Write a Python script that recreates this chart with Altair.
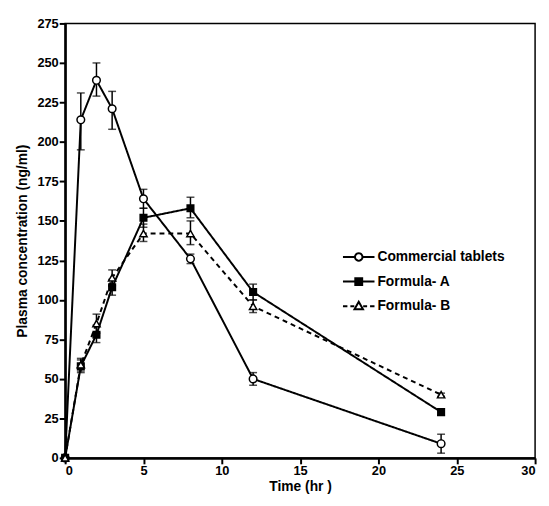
import math
import altair as alt
import pandas as pd

# ---- data ----
time = [0, 1, 2, 3, 5, 8, 12, 24]
commercial = [0, 214, 239, 221, 164, 126, 50, 9]
commercial_lo = [0, 195, 229, 208, 158, 123, 46, 3]
commercial_hi = [0, 231, 250, 232, 170, 129, 54, 15]
formula_a = [0, 58, 78, 108, 152, 158, 105, 29]
formula_a_lo = [0, 54, 73, 103, 146, 152, 100, 27]
formula_a_hi = [0, 63, 84, 113, 158, 165, 110, 31]
formula_b = [0, 59, 85, 114, 142, 142, 96, 40]
formula_b_lo = [0, 55, 79, 109, 137, 135, 92, 39]
formula_b_hi = [0, 62, 91, 119, 148, 150, 100, 41]
series_names = ["Commercial tablets", "Formula- A", "Formula- B"]
x_ticks = [0, 5, 10, 15, 20, 25, 30]
y_ticks = [0, 25, 50, 75, 100, 125, 150, 175, 200, 225, 250, 275]

FONT = "Liberation Sans"


def frame(name, vals, lo, hi):
    return pd.DataFrame({"t": time, "c": vals, "lo": lo, "hi": hi, "series": name})


frames = [
    frame(series_names[0], commercial, commercial_lo, commercial_hi),
    frame(series_names[1], formula_a, formula_a_lo, formula_a_hi),
    frame(series_names[2], formula_b, formula_b_lo, formula_b_hi),
]

x_scale = alt.Scale(domain=[0, 30], nice=False, zero=False)
y_scale = alt.Scale(domain=[0, 275], nice=False)
x_axis = alt.Axis(values=x_ticks, title="Time (hr )", grid=False)
y_axis = alt.Axis(values=y_ticks, title="Plasma concentration (ng/ml)", grid=False)

styles = [
    dict(shape="circle", fill="white", dash=[1, 0], size=60),
    dict(shape="square", fill="black", dash=[1, 0], size=45),
    dict(shape="triangle-up", fill="white", dash=[5, 4], size=55),
]

layers = []
for df, st in zip(frames, styles):
    base = alt.Chart(df)
    line = base.mark_line(color="black", strokeWidth=2, strokeDash=st["dash"]).encode(
        x=alt.X("t:Q", scale=x_scale, axis=x_axis),
        y=alt.Y("c:Q", scale=y_scale, axis=y_axis),
    )
    err = base.mark_errorbar(
        color="black", ticks=True, size=8, thickness=1.5
    ).encode(
        x=alt.X("t:Q", scale=x_scale, axis=x_axis),
        y=alt.Y("lo:Q", scale=y_scale, axis=y_axis),
        y2="hi:Q",
    )
    pts = base.mark_point(
        shape=st["shape"], fill=st["fill"], stroke="black", strokeWidth=1.5,
        size=st["size"], opacity=1, fillOpacity=1, filled=True,
    ).encode(
        x=alt.X("t:Q", scale=x_scale, axis=x_axis),
        y=alt.Y("c:Q", scale=y_scale, axis=y_axis),
    )
    layers += [line, err, pts]


# ---- legend symbols: line + marker drawn as custom paths (unit = 10px) ----
def poly(points):
    return "M" + "L".join(f"{x:.3f},{y:.3f}" for x, y in points) + "Z"


circle = poly([(0.38 * math.cos(2 * math.pi * k / 20), 0.38 * math.sin(2 * math.pi * k / 20)) for k in range(20)])
p_commercial = "M-1.6,0H-0.4M0.4,0H1.6" + circle
p_formula_a = "M-1.6,0H-0.35M0.35,0H1.6M-0.35,-0.35H0.35V0.35H-0.35Z"
p_formula_b = ("M-1.6,0H-1.15M-0.85,0H-0.45M0.45,0H0.85M1.15,0H1.6"
               + poly([(0, -0.45), (0.43, 0.3), (-0.43, 0.3)]))

legend_def = dict(
    orient="none", legendX=287, legendY=226, title=None,
    labelFont=FONT, labelFontWeight="bold", labelFontSize=14, labelColor="black",
    symbolSize=400, symbolStrokeWidth=2, symbolStrokeColor="black",
    symbolOpacity=1, labelOffset=8, rowPadding=6, padding=0,
)

legend_df = pd.DataFrame({"series": series_names})
legend_layer = alt.Chart(legend_df).transform_filter("false").mark_point(
    color="black", opacity=1, strokeWidth=2
).encode(
    shape=alt.Shape("series:N", scale=alt.Scale(domain=series_names,
                    range=[p_commercial, p_formula_a, p_formula_b]),
                    legend=alt.Legend(**legend_def)),
    fill=alt.Fill("series:N", scale=alt.Scale(domain=series_names,
                  range=["white", "black", "white"]),
                  legend=alt.Legend(**legend_def)),
    stroke=alt.Stroke("series:N", scale=alt.Scale(domain=series_names,
                      range=["black", "black", "black"]),
                      legend=alt.Legend(**legend_def)),
)
layers.append(legend_layer)

chart = alt.layer(*layers).properties(
    width=477, height=441,
    autosize=alt.AutoSizeParams(type="none"),
    padding={"left": 58, "top": 12, "right": 6, "bottom": 36},
).configure_view(
    stroke="black", strokeWidth=1.5
).configure_axis(
    domainColor="black", domainWidth=2.5, tickColor="black", tickWidth=2,
    tickSize=6, labelFont=FONT, labelFontWeight="bold", labelFontSize=13,
    labelColor="black", labelPadding=1, titleFont=FONT, titleFontWeight="bold",
    titleFontSize=14, titleColor="black",
).configure_axisY(titlePadding=8).configure_axisX(titlePadding=2)

chart.save("out.html", embed_options={"renderer": "svg", "actions": False})
